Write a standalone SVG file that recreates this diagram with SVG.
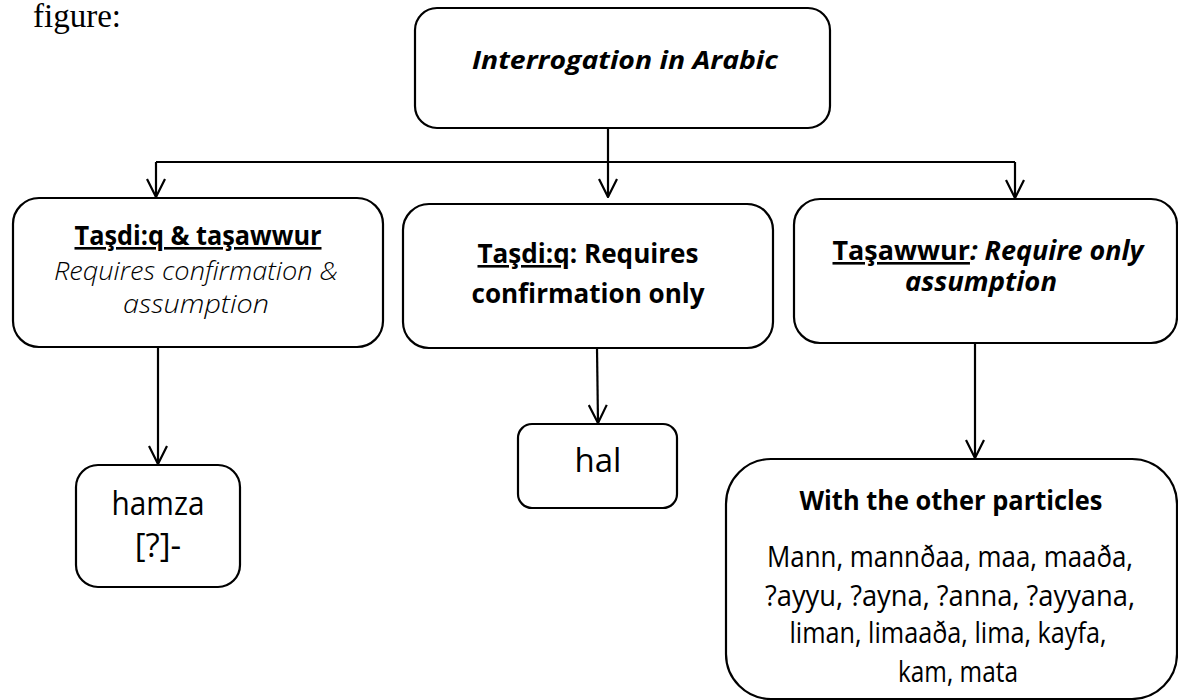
<svg xmlns="http://www.w3.org/2000/svg" width="1178" height="700" viewBox="0 0 1178 700">
<style>
.box{fill:#fff;stroke:#000;stroke-width:2.2}
.t{font-family:"Open Sans","Noto Sans","Liberation Sans",sans-serif;fill:#000;text-anchor:middle}
.b{font-weight:bold}
.i{font-style:italic}
.u{text-decoration:underline}
.conn{fill:none;stroke:#000;stroke-width:2.2}
</style>
<defs>
<marker id="arr" viewBox="0 0 20 20" refX="19" refY="10" markerWidth="20" markerHeight="20" markerUnits="userSpaceOnUse" orient="auto">
<path d="M1,1 L19,10 L1,19" fill="none" stroke="#000" stroke-width="2.2"/>
</marker>
</defs>
<rect width="1178" height="700" fill="#fff"/>
<text x="33" y="27" font-family="'Liberation Serif',serif" font-size="33">figure:</text>
<g id="connectors">
<path class="conn" d="M608,128 V162"/>
<path class="conn" d="M156,162 H1015"/>
<path class="conn" d="M156,162 V197" marker-end="url(#arr)"/>
<path class="conn" d="M608,162 V197" marker-end="url(#arr)"/>
<path class="conn" d="M1015,162 V198" marker-end="url(#arr)"/>
<path class="conn" d="M158,347 V464" marker-end="url(#arr)"/>
<path class="conn" d="M597,348 L598,423" marker-end="url(#arr)"/>
<path class="conn" d="M975,343 V458" marker-end="url(#arr)"/>
</g>
<g id="root">
<rect class="box" x="415" y="8" width="415" height="120" rx="22"/>
<text class="t b i" x="625" y="69" font-size="25" textLength="306" lengthAdjust="spacingAndGlyphs">Interrogation  in Arabic</text>
</g>
<g id="both">
<rect class="box" x="13" y="198" width="370" height="149" rx="26"/>
<text class="t b u" x="198" y="245" font-size="26" textLength="247" lengthAdjust="spacingAndGlyphs">Taşdi:q &amp; taşawwur</text>
<text class="t i" x="196" y="280" font-size="26" font-weight="300" textLength="284" lengthAdjust="spacingAndGlyphs">Requires confirmation &amp;</text>
<text class="t i" x="196" y="313" font-size="26" font-weight="300" textLength="146" lengthAdjust="spacingAndGlyphs">assumption</text>
</g>
<g id="tasdiq">
<rect class="box" x="403" y="204" width="370" height="144" rx="26"/>
<text class="t b" x="588" y="263" font-size="26" textLength="221" lengthAdjust="spacingAndGlyphs"><tspan class="u">Taşdi:q</tspan>: Requires</text>
<text class="t b" x="588" y="303" font-size="26" textLength="233" lengthAdjust="spacingAndGlyphs">confirmation only</text>
</g>
<g id="tasawwur">
<rect class="box" x="794" y="199" width="383" height="144" rx="26"/>
<text class="t b" x="988" y="260" font-size="26" textLength="311" lengthAdjust="spacingAndGlyphs"><tspan class="u">Taşawwur</tspan><tspan class="i">: Require only</tspan></text>
<text class="t b i" x="981" y="291" font-size="26" textLength="152" lengthAdjust="spacingAndGlyphs">assumption</text>
</g>
<g id="hamza">
<rect class="box" x="76" y="465" width="164" height="122" rx="22"/>
<text class="t" x="158" y="515" font-size="33" textLength="93" lengthAdjust="spacingAndGlyphs">hamza</text>
<text class="t" x="158" y="557" font-size="33">[?]-</text>
</g>
<g id="hal">
<rect class="box" x="518" y="424" width="159" height="84" rx="14"/>
<text class="t" x="598" y="472" font-size="33">hal</text>
</g>
<g id="particles">
<rect class="box" x="726" y="459" width="451" height="240" rx="45"/>
<text class="t b" x="951" y="510" font-size="26" textLength="303" lengthAdjust="spacingAndGlyphs">With the other particles</text>
<text class="t" x="950" y="567" font-size="28.5" textLength="366" lengthAdjust="spacingAndGlyphs">Mann, mannðaa, maa, maaða,</text>
<text class="t" x="950" y="606" font-size="28.5" textLength="370" lengthAdjust="spacingAndGlyphs">?ayyu, ?ayna, ?anna, ?ayyana,</text>
<text class="t" x="948" y="643" font-size="28.5" textLength="317" lengthAdjust="spacingAndGlyphs">liman, limaaða, lima, kayfa,</text>
<text class="t" x="958" y="682" font-size="28.5" textLength="120" lengthAdjust="spacingAndGlyphs">kam, mata</text>
</g>
</svg>
